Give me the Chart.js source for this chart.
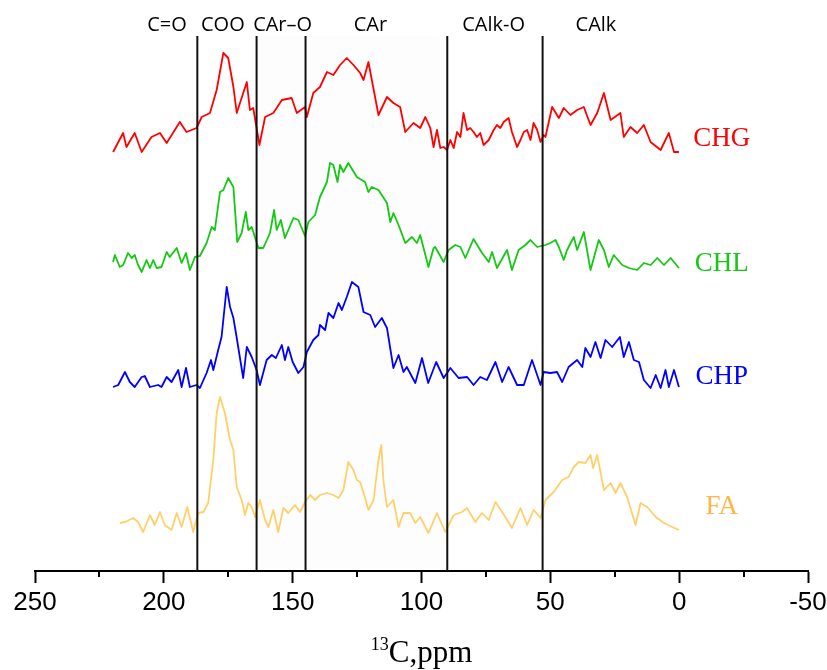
<!DOCTYPE html>
<html>
<head>
<meta charset="utf-8">
<title>13C NMR spectra</title>
<script src="https://cdn.jsdelivr.net/npm/chart.js@4.4.1/dist/chart.umd.min.js"></script>
<style>
  body { margin: 0; background: #fff; }
  #nmr { display: block; }
</style>
</head>
<body>
<canvas id="nmr" width="827" height="670"></canvas>
<script>
// stacked spectra: [ppm, intensity + offset]
var CHG = [[219.7,419],[215.8,438],[214.5,424],[211.3,438],[208.6,419],[204.8,434],[201.5,438],[198.9,428],[193.8,449],[191.2,439],[187.3,443],[185.3,454],[182.1,458],[179.5,481],[176.9,518],[175.0,513],[173.0,484],[171.7,458],[167.8,489],[166.6,461],[165.3,463],[162.9,426],[160.7,454],[157.5,458],[154.2,471],[150.4,473],[148.4,458],[145.2,464],[144.5,454],[142.0,478],[139.4,484],[136.7,499],[134.2,496],[131.6,506],[129.0,513],[126.4,506],[123.8,498],[122.5,491],[120.6,509],[116.7,456],[113.4,474],[110.9,468],[108.3,464],[106.3,439],[103.1,448],[100.5,443],[98.5,454],
  [96.6,443],[95.3,424],[94.0,441],[92.7,423],[91.4,424],[90.1,421],[88.8,431],[87.5,423],[86.2,439],[84.9,434],[83.7,458],[82.3,441],[81.1,443],[79.8,439],[78.5,434],[77.2,438],[75.9,426],[73.9,431],[72.0,441],[70.7,446],[69.4,443],[68.1,449],[66.2,453],[64.9,439],[62.9,424],[61.6,431],[60.3,439],[59.0,441],[57.7,431],[56.5,448],[55.1,441],[53.8,429],[52.6,436],[51.9,434],[49.3,464],[46.7,453],[44.8,463],[42.2,456],[39.6,461],[37.0,464],[34.4,446],[31.8,458],[29.2,478],[26.6,451],[22.8,458],[21.5,434],[18.9,444],[16.3,438],[13.7,446],[11.1,429],[7.2,421],[4.0,438],[2.0,419],[0.1,419]];

var CHL = [[219.7,309],[219.0,316],[217.1,304],[215.8,306],[213.9,318],[212.5,313],[211.3,316],[210.0,306],[208.6,299],[206.7,311],[205.4,303],[204.1,311],[202.8,303],[200.9,304],[198.9,319],[197.7,314],[195.0,323],[193.1,308],[191.4,318],[189.9,301],[187.9,314],[186.0,315],[183.4,328],[181.4,344],[180.2,341],[178.2,379],[176.9,381],[175.0,393],[173.0,384],[171.5,329],[169.8,338],[168.2,359],[167.2,341],[165.9,344],[163.3,323],[161.4,323],[158.8,338],[157.2,361],[156.2,341],[154.6,351],[153.0,333],[149.7,353],[147.8,351],[145.2,335],[143.9,349],[141.3,356],[139.4,374],[136.7,389],[135.5,408],[134.2,406],[132.6,389],[131.6,406],[130.3,399],[128.4,408],[125.1,394],[121.9,389],[120.6,379],[119.3,384],[116.7,381],[113.4,368],[112.1,349],[110.9,358],[108.9,346],[106.3,328],[103.7,334],[101.8,328],[100.5,336],[97.3,304],[95.3,323],[94.7,324],[91.4,309],[89.5,321],[86.9,326],[84.9,324],[83.0,313],[79.8,332],[76.5,318],[73.9,309],[72.6,319],[70.7,303],[66.8,321],[64.9,301],[62.3,321],[59.7,326],[57.7,331],[55.1,324],[51.9,326],[50.0,328],[48.0,331],[46.7,324],[44.8,311],[43.5,321],[40.9,334],[39.6,321],[37.0,339],[34.4,301],[31.2,331],[29.2,321],[27.3,304],[25.4,316],[22.1,306],[19.5,303],[16.3,301],[13.7,308],[11.1,306],[8.5,313],[5.9,306],[3.3,313],[0.1,303]];

var CHP = [[219.7,184],[217.7,186],[215.1,199],[213.2,189],[211.3,184],[208.6,194],[207.4,195],[205.4,184],[202.2,186],[200.9,184],[198.9,194],[197.0,189],[194.4,201],[193.1,184],[191.4,203],[189.9,184],[187.3,186],[186.0,183],[183.4,198],[181.7,211],[180.8,201],[178.9,221],[177.6,234],[175.6,284],[174.3,264],[173.0,253],[171.7,233],[169.2,193],[167.8,224],[165.9,214],[164.0,201],[162.7,186],[160.1,211],[158.1,216],[156.5,213],[154.2,226],[153.0,211],[151.7,224],[150.0,209],[147.8,198],[145.8,204],[144.5,219],[142.0,231],[140.0,236],[139.4,246],[137.4,241],[136.1,258],[134.2,253],[132.2,268],[130.9,261],[129.0,274],[127.0,289],[124.5,284],[122.5,259],[119.9,256],[118.0,244],[115.4,253],[113.4,243],[110.9,203],[108.9,216],[107.0,199],[105.7,204],[102.4,188],[99.8,213],[97.4,188],[94.3,209],[91.4,193],[88.8,203],[85.6,193],[82.3,194],[79.8,186],[77.2,194],[74.6,191],[71.3,209],[68.7,189],[66.2,204],[62.9,186],[60.3,186],[57.1,211],[53.8,186],[52.6,199],[50.0,198],[47.4,199],[45.4,189],[42.9,204],[39.6,211],[37.6,204],[36.4,223],[34.4,214],[32.5,229],[30.5,213],[28.6,231],[26.0,224],[23.0,234],[21.5,214],[19.5,229],[17.6,211],[15.6,209],[13.7,191],[11.1,183],[9.1,196],[7.2,183],[5.3,201],[4.0,184],[2.0,201],[0.1,184]];

var FA = [[217.1,48],[215.1,49],[211.9,53],[210.0,49],[208.0,39],[205.4,56],[203.5,46],[201.5,59],[199.6,46],[197.0,41],[195.0,58],[193.1,44],[190.9,64],[188.6,39],[186.7,58],[184.7,59],[182.8,68],[180.8,111],[179.5,158],[178.2,174],[176.3,158],[174.3,131],[173.0,121],[171.7,84],[169.8,71],[168.5,56],[167.2,68],[165.9,64],[164.6,54],[162.7,71],[160.7,51],[159.4,44],[157.5,61],[155.6,39],[153.6,63],[151.7,58],[149.1,66],[147.1,59],[145.2,69],[143.2,76],[141.3,71],[139.4,76],[136.7,78],[134.2,76],[132.2,73],[130.3,81],[128.4,109],[126.4,101],[125.1,91],[123.8,89],[121.9,73],[120.6,61],[118.6,71],[116.7,111],[115.6,126],[114.8,91],[113.4,64],[110.9,71],[108.9,44],[107.0,58],[104.4,58],[102.4,48],[100.5,54],[97.3,38],[94.0,58],[90.8,39],[87.5,56],[84.3,59],[82.3,63],[79.1,49],[76.5,58],[73.9,51],[71.3,69],[68.7,59],[64.9,43],[61.6,63],[59.0,46],[56.5,61],[53.8,53],[51.9,71],[48.7,79],[45.4,91],[42.9,94],[40.9,104],[39.0,109],[36.4,108],[34.4,116],[33.4,103],[31.8,116],[29.2,81],[26.6,88],[24.7,78],[22.8,88],[20.2,74],[16.9,46],[15.0,68],[12.4,64],[9.1,54],[5.9,48],[2.7,44],[0.1,41]];

var seriesNames = ["CHG", "CHL", "CHP", "FA"];
var seriesData = [CHG, CHL, CHP, FA];
var seriesColors = ["#ff0000", "#14c814", "#0000ff", "#ffd06a"];
var labelColors = ["#ff0000", "#14c814", "#0000ff", "#ffb648"];

// chemical shift regions
var regionBounds = [187, 164, 145, 90, 53];
var regionNames = ["C=O", "COO", "CAr–O", "CAr", "CAlk-O", "CAlk"];
var regionCenters = [198.8, 177.1, 153.9, 119.8, 72.0, 32.3];

var majorTicks = [250, 200, 150, 100, 50, 0, -50];
var minorTicks = [225, 175, 125, 75, 25, -25];

var TOP = 535;

var datasets = [];
regionBounds.forEach(function (v) {
  datasets.push({
    data: [[v, 0], [v, TOP]],
    borderColor: "#111",
    borderWidth: 2,
    pointRadius: 0
  });
});
seriesData.forEach(function (d, i) {
  datasets.push({
    label: seriesNames[i],
    data: d,
    borderColor: seriesColors[i],
    borderWidth: 1.8,
    borderJoinStyle: "round",
    pointRadius: 0,
    tension: 0
  });
});

var nmrDecor = {
  id: "nmrDecor",
  beforeDatasetsDraw: function (chart, args, opts) {
    var x = chart.scales.x, a = chart.chartArea, ctx = chart.ctx;
    var x1 = x.getPixelForValue(opts.shade[0]), x2 = x.getPixelForValue(opts.shade[1]);
    ctx.save();
    ctx.fillStyle = "rgba(0,0,0,0.008)";
    ctx.fillRect(x1, a.top, x2 - x1, a.bottom - a.top);
    ctx.restore();
  },
  afterDraw: function (chart, args, opts) {
    var ctx = chart.ctx, x = chart.scales.x, y = chart.scales.y, a = chart.chartArea;
    ctx.save();

    // minor ticks under the axis
    ctx.strokeStyle = "#000";
    ctx.lineWidth = 2;
    minorTicks.forEach(function (v) {
      var px = Math.round(x.getPixelForValue(v));
      ctx.beginPath();
      ctx.moveTo(px, a.bottom);
      ctx.lineTo(px, a.bottom + 6);
      ctx.stroke();
    });

    // region names above the separators
    ctx.fillStyle = "#000";
    ctx.font = '20px "Open Sans"';
    ctx.textAlign = "center";
    ctx.textBaseline = "alphabetic";
    regionNames.forEach(function (t, i) {
      ctx.fillText(t, x.getPixelForValue(regionCenters[i]), a.top - 5);
    });

    // sample names next to each trace
    ctx.font = '27px "Liberation Serif"';
    ctx.textBaseline = "middle";
    seriesNames.forEach(function (t, i) {
      ctx.fillStyle = labelColors[i];
      ctx.fillText(t, x.getPixelForValue(opts.labelPpm), y.getPixelForValue(opts.labelAt[i]));
    });

    // axis title with superscript mass number
    ctx.fillStyle = "#000";
    ctx.textAlign = "left";
    ctx.textBaseline = "alphabetic";
    var small = '18px "Liberation Serif"', big = '31px "Liberation Serif"';
    ctx.font = small;
    var w1 = ctx.measureText("13").width;
    ctx.font = big;
    var w2 = ctx.measureText("C,ppm").width;
    var x0 = (a.left + a.right) / 2 - (w1 + w2) / 2;
    ctx.font = small;
    ctx.fillText("13", x0, 650);
    ctx.font = big;
    ctx.fillText("C,ppm", x0 + w1, 662);

    ctx.restore();
  }
};

new Chart(document.getElementById("nmr"), {
  type: "line",
  data: { datasets: datasets },
  plugins: [nmrDecor],
  options: {
    responsive: false,
    devicePixelRatio: 1,
    animation: false,
    layout: { padding: { left: 35, right: 19, top: 36, bottom: 0 } },
    plugins: {
      legend: { display: false },
      tooltip: { enabled: false },
      nmrDecor: { labelPpm: -16.5, labelAt: [432, 307, 194, 64], shade: [164, 93] }
    },
    scales: {
      x: {
        type: "linear",
        min: -50,
        max: 250,
        reverse: true,
        afterBuildTicks: function (s) {
          s.ticks = majorTicks.map(function (v) { return { value: v }; });
        },
        afterFit: function (s) {
          s.height = 99;
          s.paddingLeft = 0;
          s.paddingRight = 0;
        },
        grid: { display: true, drawOnChartArea: false, drawTicks: true, tickLength: 12, tickColor: "#000", tickWidth: 2 },
        border: { display: true, color: "#000", width: 2 },
        ticks: {
          color: "#000",
          padding: 4,
          maxRotation: 0,
          font: { family: "Liberation Sans", size: 26 },
          callback: function (v) { return String(v); }
        }
      },
      y: {
        type: "linear",
        min: 0,
        max: TOP,
        display: false
      }
    }
  }
});
</script>
</body>
</html>
